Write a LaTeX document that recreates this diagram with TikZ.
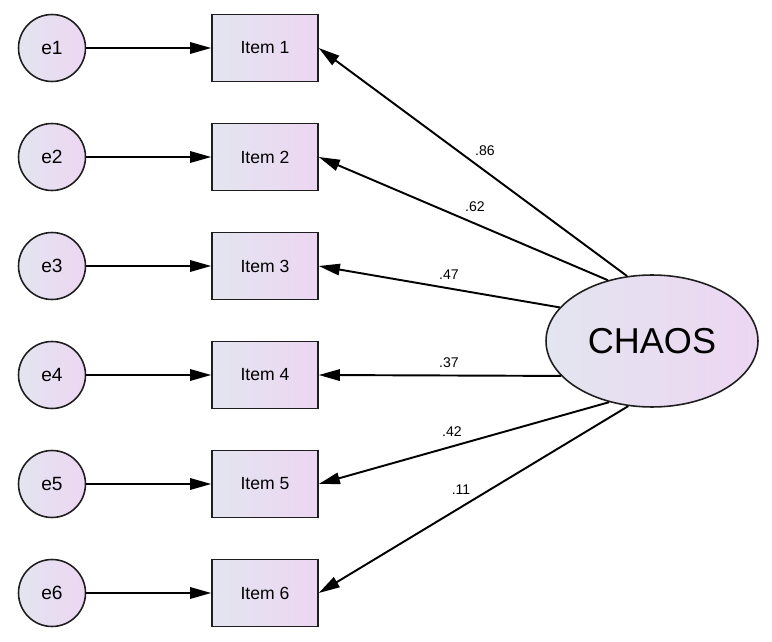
\documentclass[tikz,border=0pt]{standalone}
\usepackage{fontspec}
\setmainfont{Liberation Sans}
\usetikzlibrary{shapes,arrows.meta}

\definecolor{fillleft}{RGB}{227,229,240}
\definecolor{fillright}{RGB}{237,214,242}
\definecolor{edge}{RGB}{30,30,30}

\begin{document}
\begin{tikzpicture}[x=0.02cm, y=-0.02cm,
    err/.style={circle, draw=edge, line width=0.9pt, minimum size=1.34cm, inner sep=0pt,
      left color=fillleft, right color=fillright, font=\fontsize{10.9}{12}\selectfont},
    item/.style={rectangle, draw=edge, line width=0.9pt, minimum width=2.12cm, minimum height=1.34cm,
      left color=fillleft, right color=fillright, font=\fontsize{10}{12}\selectfont},
    latent/.style={ellipse, draw=edge, line width=0.9pt, minimum width=4.24cm, minimum height=2.64cm,
      left color=fillleft, right color=fillright, font=\fontsize{20.5}{23}\selectfont},
    path/.style={-{Triangle[length=12pt,width=6.5pt]}, line width=1.1pt},
    coef/.style={font=\fontsize{8}{9}\selectfont}]
  \useasboundingbox (0,0) rectangle (772,642);

  % Latent factor
  \node[latent] (chaos) at (652,341) {CHAOS};

  % Items and errors
  \foreach \i in {1,...,6} {
    \node[err] (e\i) at (52, {48+109*(\i-1)}) {e\i};
    \node[item] (item\i) at (265, {48+109*(\i-1)}) {Item \i};
    \draw[path] (e\i) -- (item\i);
  };

  % Loadings
  \foreach \a/\i/\v/\x/\y in {111/1/.86/485/151, 126/2/.62/475/207, 160/3/.47/449/275,
                              201/4/.37/449/363, 235/5/.42/452/432, 250/6/.11/461/490} {
    \draw[path] (chaos.\a) -- (item\i.east);
    \node[coef] (c\i) at (\x,\y) {\v};
  };
\end{tikzpicture}
\end{document}
